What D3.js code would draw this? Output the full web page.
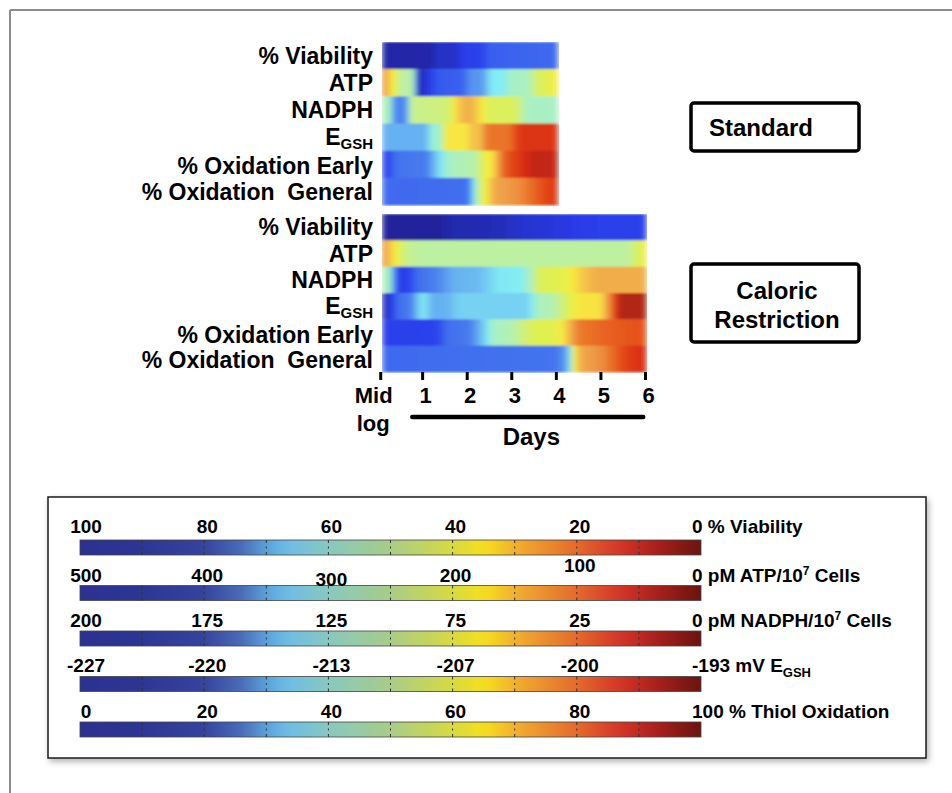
<!DOCTYPE html>
<html>
<head>
<meta charset="utf-8">
<script src="https://cdn.jsdelivr.net/npm/d3@7"></script>
<style>
  body { margin: 0; background: #fff; }
  svg text { font-family: "Liberation Sans", Arial, Helvetica, sans-serif; font-weight: bold; fill: #000; white-space: pre; }
</style>
</head>
<body>
<svg id="chart" width="952" height="793"></svg>
<script>
// row labels, same for both panels
const rowLabels = ["% Viability", "ATP", "NADPH", "EGSH", "% Oxidation Early", "% Oxidation\u00a0 General"];
const rowKinds = ["viability", "atp", "nadph", "egsh", "thiol", "thiol"];

const dayTicks = [0.06, 1, 2, 3, 4, 5, 6];
const dayTickLabels = ["Mid", "1", "2", "3", "4", "5", "6"];

// Standard: [day, value]
const stdViability = [[0.1, 98], [1.2, 98], [1.35, 93], [1.75, 93], [1.95, 86], [2.3, 86], [2.5, 77], [4.05, 75]];
const stdATP = [[0.1, 110], [0.2, 110], [0.3, 160], [0.38, 160], [0.5, 220], [0.82, 225], [0.88, 485], [1.0, 470],
  [1.15, 440], [1.35, 390], [1.9, 385], [2.1, 335], [2.35, 335], [2.55, 270], [2.8, 270], [3.0, 240], [3.35, 240],
  [3.6, 190], [3.8, 185], [4.05, 160]];
const stdNADPH = [[0.1, 92], [0.28, 92], [0.36, 150], [0.65, 150], [0.74, 80], [1.6, 75], [1.8, 45], [2.05, 35],
  [2.3, 50], [2.5, 70], [3.1, 70], [3.35, 95], [4.05, 95]];
const stdEGSH = [[0.1, -214], [1.1, -214], [1.2, -210], [1.4, -210], [1.55, -204], [2.0, -204], [2.1, -202.5],
  [2.3, -202.5], [2.45, -199], [2.95, -199], [3.2, -196], [4.05, -196]];
const stdOxEarly = [[0.1, 15], [0.3, 20], [0.4, 27], [1.1, 28], [1.3, 40], [1.5, 48], [1.6, 52], [2.2, 55], [2.4, 65],
  [2.6, 70], [2.8, 84], [3.1, 90], [3.5, 96], [4.05, 96]];
const stdOxGeneral = [[0.1, 25], [2.05, 26], [2.15, 45], [2.3, 60], [2.45, 68], [2.6, 76], [3.2, 80], [3.6, 86],
  [3.9, 90], [4.05, 91]];

// Caloric restriction
const crViability = [[0.1, 100], [1.3, 100], [1.7, 97], [2.8, 95], [3.2, 92], [3.9, 90], [4.4, 88], [5.1, 86], [6.04, 86]];
const crATP = [[0.1, 100], [0.25, 130], [0.4, 165], [0.6, 205], [0.9, 220], [5.6, 220], [5.85, 190], [6.04, 165]];
const crNADPH = [[0.1, 92], [0.25, 90], [0.45, 185], [0.7, 182], [0.9, 160], [1.3, 152], [1.7, 132], [2.3, 128],
  [2.7, 112], [3.2, 110], [3.45, 92], [3.6, 70], [4.15, 66], [4.5, 48], [4.9, 36], [6.04, 36]];
const crEGSH = [[0.1, -225.6], [0.25, -224], [0.45, -218], [0.75, -217], [0.95, -211.7], [1.1, -211.7], [1.2, -214],
  [1.55, -214], [1.8, -212.4], [3.35, -212.4], [3.6, -209.3], [3.95, -208.6], [4.3, -206], [4.5, -203.9],
  [5.0, -203.9], [5.2, -200], [5.45, -193.7], [6.04, -193.7]];
const crOxEarly = [[0.1, 14], [1.3, 15], [1.55, 26], [2.05, 28], [2.4, 42], [2.6, 52], [3.0, 54], [3.4, 62], [4.0, 64],
  [4.25, 72], [4.5, 82], [5.1, 85], [5.8, 87], [6.04, 86]];
const crOxGeneral = [[0.1, 25], [4.0, 27], [4.2, 33], [4.32, 45], [4.4, 66], [4.55, 76], [5.05, 80], [5.5, 88],
  [5.8, 92], [6.04, 92]];

// colour bar tick values (last one carries the unit)
const viabilityTicks = [100, 80, 60, 40, 20, 0];
const atpTicks = [500, 400, 300, 200, 100, 0];
const nadphTicks = [200, 175, 125, 75, 25, 0];
const egshTicks = [-227, -220, -213, -207, -200, -193];
const thiolTicks = [0, 20, 40, 60, 80, 100];

const svg = d3.select("#chart");
const defs = svg.append("defs");

// page frame (top + left edge only)
svg.append("line").attr("x1", 10).attr("y1", 10).attr("x2", 952).attr("y2", 10).attr("stroke", "#8c8c8c").attr("stroke-width", 2);
svg.append("line").attr("x1", 10).attr("y1", 10).attr("x2", 10).attr("y2", 793).attr("stroke", "#8c8c8c").attr("stroke-width", 2);

const x = d3.scaleLinear().domain([0.1, 6]).range([382, 645]);

const fracs = [0, 0.2, 0.4, 0.6, 0.8, 1];
const toT = {
  viability: d3.scaleLinear().domain(viabilityTicks).range(fracs),
  atp: d3.scaleLinear().domain(atpTicks).range(fracs),
  nadph: d3.scaleLinear().domain(nadphTicks).range(fracs),
  egsh: d3.scaleLinear().domain(egshTicks).range(fracs),
  thiol: d3.scaleLinear().domain(thiolTicks).range(fracs)
};

const heatColor = d3.scaleLinear()
  .domain([0, 0.06, 0.12, 0.2, 0.27, 0.34, 0.4, 0.46, 0.52, 0.58, 0.63, 0.68, 0.73, 0.78, 0.83, 0.88, 0.93, 0.97, 1])
  .range(["#20229a", "#2530c0", "#2a3ae8", "#3050f0", "#4474ee", "#5c9cf0", "#70c4f2", "#84ecf4", "#a8f0c4",
    "#c8f090", "#e0f050", "#f8ec40", "#f4c048", "#ee9c48", "#ea7428", "#e44818", "#d82c10", "#bc2418", "#9c2a10"])
  .interpolate(d3.interpolateRgb).clamp(true);

const legendColor = d3.scaleLinear()
  .domain([0, 0.1, 0.2, 0.26, 0.3, 0.33, 0.4, 0.5, 0.6, 0.65, 0.71, 0.8, 0.87, 0.93, 1])
  .range(["#2b3190", "#2d3694", "#36449e", "#4a6cb8", "#5aa0d8", "#6cbce8", "#88c8c0", "#a8cc88", "#d8da40",
    "#f6e01e", "#f0a830", "#e46a2c", "#d43428", "#a8201c", "#6a1410"])
  .interpolate(d3.interpolateRgb);

// soft horizontal smear like the original image
const soft = defs.append("filter").attr("id", "soft")
  .attr("x", 0).attr("y", 0).attr("width", 1).attr("height", 1);
soft.append("feGaussianBlur").attr("stdDeviation", "3 0.8").attr("edgeMode", "duplicate");

let gradId = 0;
function rowGradient(points, kind) {
  const id = "g" + (gradId++);
  const d0 = points[0][0], d1 = points[points.length - 1][0];
  const grad = defs.append("linearGradient").attr("id", id)
    .attr("gradientUnits", "userSpaceOnUse")
    .attr("x1", x(d0)).attr("x2", x(d1)).attr("y1", 0).attr("y2", 0);
  const stops = [points[0]];
  for (let i = 1; i < points.length; i++) {
    const [a0, v0] = points[i - 1], [a1, v1] = points[i];
    for (let k = 1; k <= 6; k++) {
      const f = k / 6;
      stops.push([a0 + (a1 - a0) * f, v0 + (v1 - v0) * f]);
    }
  }
  grad.selectAll("stop").data(stops).join("stop")
    .attr("offset", d => (x(d[0]) - x(d0)) / (x(d1) - x(d0)))
    .attr("stop-color", d => heatColor(toT[kind](d[1])));
  return id;
}

// baseline offsets of the row labels from the row centre
const labelShift = [8, 8, 8, 8, 10, 9];

function panel(rows, top, bottom) {
  const y = d3.scaleBand().domain(d3.range(rows.length)).range([top, bottom]);
  const g = svg.append("g").attr("filter", "url(#soft)");
  rows.forEach((pts, i) => {
    const id = rowGradient(pts, rowKinds[i]);
    g.append("rect")
      .attr("x", x(pts[0][0])).attr("width", x(pts[pts.length - 1][0]) - x(pts[0][0]))
      .attr("y", y(i)).attr("height", y.bandwidth() + 0.5)
      .attr("fill", `url(#${id})`);
  });
  const lg = svg.append("g");
  rowLabels.forEach((lab, i) => {
    const cy = y(i) + y.bandwidth() / 2;
    const t = lg.append("text").attr("x", 373).attr("y", cy + labelShift[i])
      .attr("text-anchor", "end").style("font-size", "23px");
    if (lab === "EGSH") {
      t.text("E");
      t.append("tspan").attr("dy", 4).style("font-size", "15px").text("GSH");
    } else {
      t.text(lab);
    }
  });
  return y;
}

panel([stdViability, stdATP, stdNADPH, stdEGSH, stdOxEarly, stdOxGeneral], 42, 205);
panel([crViability, crATP, crNADPH, crEGSH, crOxEarly, crOxGeneral], 214, 372);

// day axis
const axis = svg.append("g").attr("transform", "translate(0,372)")
  .call(d3.axisBottom(x).tickValues(dayTicks).tickSize(8).tickPadding(7)
    .tickFormat((d, i) => dayTickLabels[i]));
axis.select(".domain").remove();
axis.selectAll(".tick line").attr("stroke", "#000").attr("stroke-width", 3);
axis.selectAll(".tick text").style("font-size", "22px").attr("dx", 3)
  .style("font-family", "'Liberation Sans', Arial, sans-serif").style("font-weight", "bold").attr("fill", "#000");
axis.selectAll(".tick text").filter((d, i) => i === 0).attr("dx", -7);
svg.append("text").attr("x", x(dayTicks[0]) - 7).attr("y", 431).attr("text-anchor", "middle")
  .style("font-size", "22px").text("log");

svg.append("line").attr("x1", x(0.78)).attr("x2", x(5.96)).attr("y1", 417).attr("y2", 417)
  .attr("stroke", "#000").attr("stroke-width", 4.5).attr("stroke-linecap", "round");
svg.append("text").attr("x", x(3.45)).attr("y", 445).attr("text-anchor", "middle").style("font-size", "24px").text("Days");

// condition boxes
svg.append("rect").attr("x", 691).attr("y", 103).attr("width", 168).attr("height", 48).attr("rx", 3)
  .attr("fill", "#fff").attr("stroke", "#000").attr("stroke-width", 3.5);
svg.append("text").attr("x", 709).attr("y", 136).style("font-size", "24px").text("Standard");
svg.append("rect").attr("x", 691).attr("y", 264).attr("width", 168).attr("height", 78).attr("rx", 3)
  .attr("fill", "#fff").attr("stroke", "#000").attr("stroke-width", 3.5);
svg.append("text").attr("x", 777).attr("y", 299).attr("text-anchor", "middle").style("font-size", "24px").text("Caloric");
svg.append("text").attr("x", 777).attr("y", 328).attr("text-anchor", "middle").style("font-size", "24px").text("Restriction");

// legend box
const shadow = defs.append("filter").attr("id", "shadow").attr("x", "-5%").attr("y", "-5%").attr("width", "110%").attr("height", "115%");
shadow.append("feDropShadow").attr("dx", 2).attr("dy", 3).attr("stdDeviation", 3).attr("flood-color", "#000").attr("flood-opacity", 0.3);
svg.append("rect").attr("x", 48).attr("y", 497).attr("width", 878).attr("height", 261)
  .attr("fill", "#fff").attr("stroke", "#1a1a1a").attr("stroke-width", 1.5).attr("filter", "url(#shadow)");

const lgrad = defs.append("linearGradient").attr("id", "legendGrad");
lgrad.selectAll("stop").data(d3.range(0, 1.0001, 0.02)).join("stop")
  .attr("offset", d => d).attr("stop-color", d => legendColor(d));

const lx = d3.scaleLinear().domain([0, 1]).range([80, 701]);
const barTop = i => 540 + i * 45.5;
const barH = 15;

const legendRows = [
  { ticks: viabilityTicks, unit: [["0 % Viability"]], dy: [0, 0, 0, 0, 0, 0], base: -7 },
  { ticks: atpTicks, unit: [["0 pM ATP/10"], ["7", "sup"], [" Cells"]], dy: [0, 0, 4, 0, -10, 0], base: -4 },
  { ticks: nadphTicks, unit: [["0 pM NADPH/10"], ["7", "sup"], [" Cells"]], dy: [0, 0, 0, 0, 0, 0], base: -4 },
  { ticks: egshTicks, unit: [["-193 mV E"], ["GSH", "sub"]], dy: [0, 0, 0, 0, 0, 0], base: -5 },
  { ticks: thiolTicks, unit: [["100 % Thiol Oxidation"]], dy: [0, 0, 0, 0, 0, 0], base: -4 }
];

legendRows.forEach((row, i) => {
  const yb = barTop(i);
  const g = svg.append("g");
  g.append("rect").attr("x", lx(0)).attr("y", yb).attr("width", lx(1) - lx(0)).attr("height", barH)
    .attr("fill", "url(#legendGrad)").attr("stroke", "#444").attr("stroke-width", 0.8);
  g.selectAll(".tk").data(d3.range(0.1, 0.95, 0.1)).join("path")
    .attr("d", d => `M${lx(d)},${yb}v3M${lx(d)},${yb + barH}v-3M${lx(d)},${yb + barH / 2 - 1}v2`)
    .attr("stroke", "#333").attr("stroke-width", 1);
  g.selectAll(".lab").data(row.ticks.slice(0, 5)).join("text")
    .attr("x", (d, j) => lx(fracs[j]) + (j === 0 ? 6 : 3))
    .attr("y", (d, j) => yb + row.base + row.dy[j])
    .attr("text-anchor", "middle").style("font-size", "19px")
    .text(d => String(d));
  const ut = g.append("text").attr("x", lx(1) - 9).attr("y", yb + row.base + row.dy[5]).style("font-size", "19px");
  row.unit.forEach(([s, kind]) => {
    const sp = ut.append("tspan").text(s);
    if (kind === "sup") sp.style("font-size", "12px").attr("dy", -7);
    else if (kind === "sub") sp.style("font-size", "13px").attr("dy", 5);
    else if (ut.selectAll("tspan").size() > 1) sp.attr("dy", 7);
  });
});
</script>
</body>
</html>
